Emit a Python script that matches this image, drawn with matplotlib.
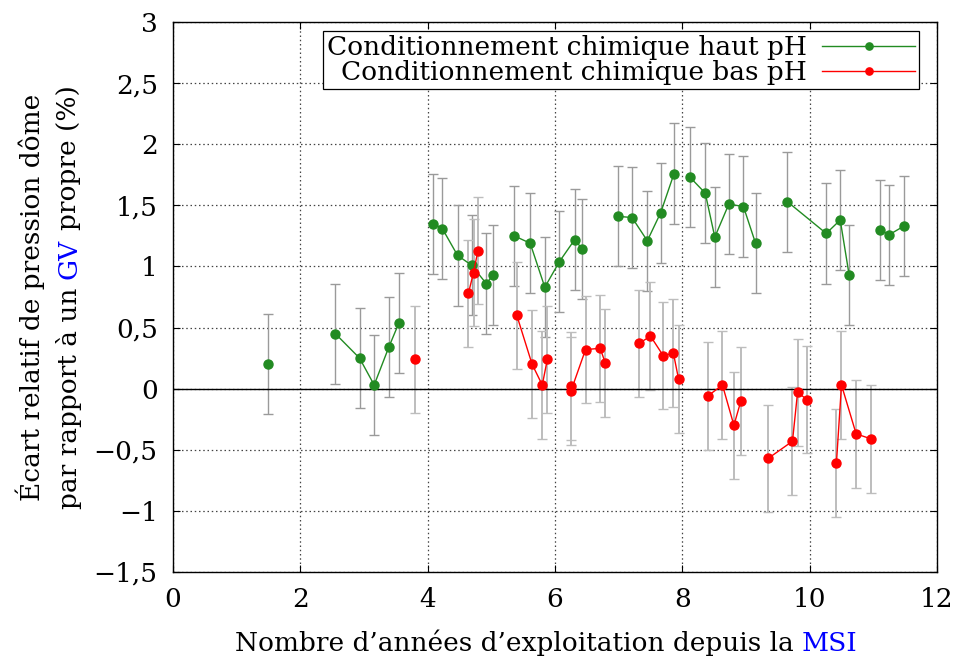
import matplotlib
matplotlib.use('Agg')
from matplotlib import pyplot as plt
from matplotlib.ticker import FuncFormatter, MultipleLocator
import numpy as np

plt.rcParams['font.family'] = ['DejaVu Serif']

# haut pH (green), each sub-list is a connected run
haut_x = [[1.49], [2.55, 2.93, 3.16, 3.39, 3.55],
          [4.09, 4.23, 4.47, 4.69, 4.92, 5.03],
          [5.36, 5.61, 5.84, 6.07, 6.31, 6.43],
          [6.99, 7.21, 7.45, 7.66, 7.87],
          [8.12, 8.36, 8.51, 8.73, 8.96, 9.15],
          [9.65, 10.26, 10.48, 10.62],
          [11.10, 11.25, 11.48]]
haut_y = [[0.20], [0.45, 0.25, 0.03, 0.34, 0.54],
          [1.35, 1.31, 1.09, 1.01, 0.86, 0.93],
          [1.25, 1.19, 0.83, 1.04, 1.22, 1.14],
          [1.41, 1.40, 1.21, 1.44, 1.76],
          [1.73, 1.60, 1.24, 1.51, 1.49, 1.19],
          [1.53, 1.27, 1.38, 0.93],
          [1.30, 1.26, 1.33]]
haut_err = 0.41

# bas pH (red)
bas_x = [[3.80], [4.64, 4.72, 4.79],
         [5.40, 5.64, 5.80, 5.88],
         [6.25, 6.25, 6.48, 6.71, 6.79],
         [7.32, 7.50, 7.70, 7.86, 7.94],
         [8.40, 8.63, 8.81, 8.92],
         [9.35, 9.73, 9.81, 9.96],
         [10.42, 10.50, 10.73, 10.96]]
bas_y = [[0.24], [0.78, 0.95, 1.13],
         [0.60, 0.20, 0.03, 0.24],
         [0.02, -0.02, 0.32, 0.33, 0.21],
         [0.37, 0.43, 0.27, 0.29, 0.08],
         [-0.06, 0.03, -0.30, -0.10],
         [-0.57, -0.43, -0.03, -0.09],
         [-0.61, 0.03, -0.37, -0.41]]
bas_err = 0.44

green = '#228b22'
red = '#ff0000'

fig = plt.figure(figsize=(9.54, 6.6), dpi=100)
ax = fig.add_axes([173/954, 1 - 572/660, 764/954, 550/660])

fs = 19

for xs, ys in zip(haut_x, haut_y):
    ax.errorbar(xs, ys, yerr=haut_err, fmt='none', ecolor='#9a9a9a', elinewidth=1.0,
                capsize=3.5, capthick=1.0, zorder=2)
for xs, ys in zip(bas_x, bas_y):
    ax.errorbar(xs, ys, yerr=bas_err, fmt='none', ecolor='#bdbdbd', elinewidth=1.4,
                capsize=3.5, capthick=1.0, zorder=2)

for i, (xs, ys) in enumerate(zip(haut_x, haut_y)):
    ax.plot(xs, ys, '-o', color=green, lw=1.0, ms=6.5, zorder=4,
            label='Conditionnement chimique haut pH' if i == 0 else None)
for i, (xs, ys) in enumerate(zip(bas_x, bas_y)):
    ax.plot(xs, ys, '-o', color=red, lw=1.0, ms=6.5, zorder=4,
            label='Conditionnement chimique bas pH' if i == 0 else None)

ax.axhline(0, color='black', lw=1.0, zorder=3)

ax.set_xlim(0, 12)
ax.set_ylim(-1.5, 3)
ax.xaxis.set_major_locator(MultipleLocator(2))
ax.yaxis.set_major_locator(MultipleLocator(0.5))
fmt = FuncFormatter(lambda v, p: ('%g' % v).replace('.', ',').replace('-', '\u2212'))
ax.xaxis.set_major_formatter(fmt)
ax.yaxis.set_major_formatter(fmt)
ax.tick_params(direction='in', top=True, right=True, labelsize=fs, length=5, width=0.8, pad=11)
ax.grid(True, color='#444444', linestyle=(0, (1.2, 2.2)), lw=0.9)
for s in ax.spines.values():
    s.set_linewidth(1.0)

leg = ax.legend(loc='upper right', bbox_to_anchor=(0.976, 0.983), borderaxespad=0,
                fontsize=fs, markerfirst=False, fancybox=False, edgecolor='black',
                framealpha=1, handlelength=3.5, handletextpad=0.6, labelspacing=0.0,
                borderpad=0.15, markerscale=0.8)
leg.get_frame().set_linewidth(0.9)

# multi-coloured axis labels
fig.canvas.draw()
r = fig.canvas.get_renderer()


def wid(s):
    t = fig.text(0, 0, s, fontsize=fs)
    w = t.get_window_extent(r).width
    t.remove()
    return w


W, H = 954, 660

# x label
full = 'Nombre d\u2019années d\u2019exploitation depuis la MSI'
wf = wid(full)
x0 = 546 - wf / 2
yl = 660 - 651
fig.text(x0 / W, yl / H, full[:-3], fontsize=fs, ha='left', va='baseline')
fig.text((x0 + wf - wid('MSI')) / W, yl / H, 'MSI', fontsize=fs, ha='left', va='baseline', color='blue')

# y label
fig.text(30 / W, 1 - 297 / H, '\u00c9cart relatif de pression dôme', fontsize=fs,
         rotation=90, ha='center', va='center')
l2 = 'par rapport à un GV propre (%)'
w2 = wid(l2)
y0 = (660 - 297) - w2 / 2
xl = 69
fig.text(xl / W, y0 / H, 'par rapport à un', fontsize=fs, rotation=90,
         rotation_mode='anchor', ha='left', va='center')
fig.text(xl / W, (y0 + wid('par rapport à un GV') - wid('GV')) / H, 'GV', fontsize=fs,
         rotation=90, rotation_mode='anchor', ha='left', va='center', color='blue')
fig.text(xl / W, (y0 + w2 - wid('propre (%)')) / H, 'propre (%)', fontsize=fs,
         rotation=90, rotation_mode='anchor', ha='left', va='center')

fig.savefig('out.png', dpi=100)
